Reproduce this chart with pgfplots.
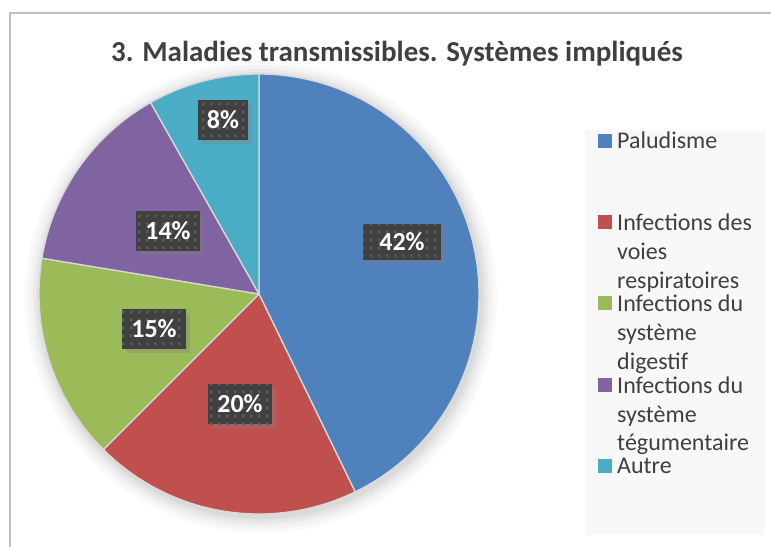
\documentclass[border=0pt]{standalone}
\usepackage{fontspec}
\setmainfont{Carlito}
\usepackage{pgfplots}
\usepackage{pgfplotstable}
\pgfplotsset{compat=1.18}
\usetikzlibrary{shadows,patterns}
\definecolor{pie0}{HTML}{4F81BD}
\definecolor{pie1}{HTML}{C0504D}
\definecolor{pie2}{HTML}{9BBB59}
\definecolor{pie3}{HTML}{8064A2}
\definecolor{pie4}{HTML}{4BACC6}
\definecolor{txt}{HTML}{404040}
\definecolor{lab}{HTML}{404040}
\definecolor{labdot}{HTML}{5A5A5A}
\definecolor{legbg}{HTML}{F8F8F8}
\pgfdeclarepatternformonly{sqdots}{\pgfqpoint{0pt}{0pt}}{\pgfqpoint{8bp}{8bp}}{\pgfqpoint{8bp}{8bp}}{%
  \pgfpathrectangle{\pgfqpoint{2bp}{2bp}}{\pgfqpoint{3bp}{3bp}}\pgfusepath{fill}}

% share of each category (percent), clockwise from the top
\pgfplotstableread{
value
42.8
19.7
15.1
14.2
8.2
}\piedata

\tikzset{
  plab/.style={drop shadow={shadow xshift=4bp, shadow yshift=-4bp, opacity=0.35},
    preaction={fill=lab}, pattern=sqdots, pattern color=labdot,
    text=white, font=\bfseries\fontsize{26bp}{30bp}\selectfont,
    minimum width=64bp, minimum height=40bp, inner sep=0pt},
  legtxt/.style={anchor=base west, inner sep=0pt, text=txt,
    font=\fontsize{24bp}{29bp}\selectfont},
}

\begin{document}
\begin{tikzpicture}
\begin{axis}[
  width=771bp, height=547bp, scale only axis,
  xmin=0, xmax=771, ymin=0, ymax=547, y dir=reverse,
  hide axis, clip=false,
]
\coordinate (bbA) at (0,547);
\coordinate (bbB) at (771,0);
% chart frame
\draw[black!25, line width=1.5bp] (10,547) -- (10,13) -- (771,13);
% title
\node[anchor=base, text=txt, inner sep=0pt, font=\bfseries\fontsize{29bp}{33bp}\selectfont]
  at (397,62) {3. Maladies transmissibles. Systèmes impliqués};
% soft shadow of the pie
\fill[black, opacity=0.025] (261,297) circle[radius=236bp];
\fill[black, opacity=0.025] (261,297) circle[radius=232bp];
\fill[black, opacity=0.03] (261,297) circle[radius=228bp];
\fill[black, opacity=0.035] (261,297) circle[radius=225bp];
\fill[black, opacity=0.04] (261,297) circle[radius=222bp];
% pie wedges
\pgfmathsetmacro\startang{90}
\pgfplotsforeachungrouped \i in {0,...,4}{%
  \pgfplotstablegetelem{\i}{value}\of\piedata
  \pgfmathsetmacro\endang{\startang-3.6*\pgfplotsretval}%
  \edef\cmd{\noexpand\addplot[fill=pie\i, draw=white!85!black, line width=1.3bp,
     domain=\endang:\startang, samples=90]
     ({259+220*cos(x)},{294-220*sin(x)}) -- (259,294) -- cycle;}%
  \cmd
  \global\let\startang\endang
}
% data labels
\node[plab, minimum width=78bp, minimum height=36bp] at (402,242) {42\%};
\node[plab] at (240,404) {20\%};
\node[plab] at (154,329) {15\%};
\node[plab] at (168,231) {14\%};
\node[plab, minimum width=50bp] at (223,120) {8\%};
% legend
\fill[legbg] (585,130) rectangle (765,535);
\fill[pie0] (598,134) rectangle (612,148);
\fill[pie1] (598,215) rectangle (612,229);
\fill[pie2] (598,296) rectangle (612,310);
\fill[pie3] (598,378) rectangle (612,392);
\fill[pie4] (598,459) rectangle (612,473);
\node[legtxt] at (617,148.5) {Paludisme};
\node[legtxt] at (617,230) {Infections des};
\node[legtxt] at (617,259) {voies};
\node[legtxt] at (617,288) {respiratoires};
\node[legtxt] at (617,311) {Infections du};
\node[legtxt] at (617,340) {système};
\node[legtxt] at (617,369) {digestif};
\node[legtxt] at (617,393) {Infections du};
\node[legtxt] at (617,422) {système};
\node[legtxt] at (617,450) {tégumentaire};
\node[legtxt] at (617,473.5) {Autre};
\end{axis}
\pgfresetboundingbox
\path[use as bounding box] (bbA) rectangle (bbB);
\end{tikzpicture}
\end{document}
